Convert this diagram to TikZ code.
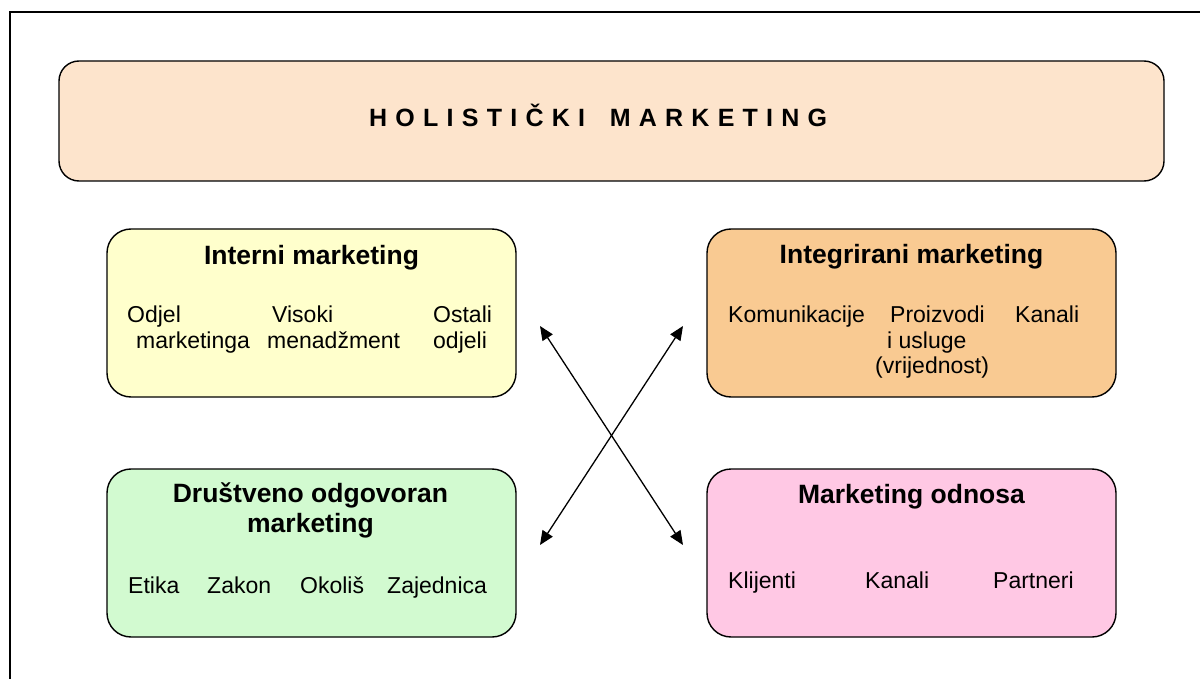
\documentclass[tikz,border=0pt]{standalone}
\usepackage{fontspec}
\setmainfont{Liberation Sans}
\usetikzlibrary{arrows.meta}
\definecolor{peach}{HTML}{FDE4CC}
\definecolor{lyellow}{HTML}{FFFFCC}
\definecolor{lorange}{HTML}{F9CA92}
\definecolor{lgreen}{HTML}{D2FAD0}
\definecolor{lpink}{HTML}{FFC8E4}
\tikzset{
  box/.style={draw=black, line width=1.4pt, rounded corners=24pt, inner sep=0pt, minimum width=409pt, minimum height=168pt},
  hd/.style={font=\fontsize{26.5}{30}\selectfont\bfseries, inner sep=0pt, anchor=base, align=center},
  itm/.style={font=\fontsize{23}{26}\selectfont, inner sep=0pt, anchor=base west},
  arr/.style={{Triangle[length=14pt,width=12pt]}-{Triangle[length=14pt,width=12pt]}, line width=1.3pt}
}
\begin{document}
\begin{tikzpicture}[x=1pt,y=-1pt]
\useasboundingbox (0,0) rectangle (1200,679);
\fill[white] (0,0) rectangle (1200,679);
% frame
\draw[line width=1.4pt] (1200,12) -- (10,12) -- (10,679);
% title box
\node[box, rounded corners=20pt, fill=peach, minimum width=1105pt, minimum height=120pt] (topbox) at (611.5,121) {};
\node[font=\fontsize{25}{28}\selectfont\bfseries\addfontfeature{LetterSpace=5.2}, anchor=base west, inner sep=0pt] (title) at (369,127) {H O L I S T I Č K I \ \ M A R K E T I N G};
% boxes
\node[box, fill=lyellow] (interni) at (311.5,313) {};
\node[box, fill=lorange] (integ) at (911.5,313) {};
\node[box, fill=lgreen] (drus) at (311.5,553) {};
\node[box, fill=lpink] (odnos) at (911.5,553) {};
% headers
\node[hd] (hint) at (311.5,265) {Interni marketing};
\node[hd] (hinteg) at (911.5,264) {Integrirani marketing};
\node[hd] (hdrus) at (310.5,532) {Društveno odgovoran\\marketing};
\node[hd] (hodn) at (911.5,503) {Marketing odnosa};
% interni items
\node[itm] (i1a) at (127,323) {Odjel};
\node[itm] (i1b) at (136,348) {marketinga};
\node[itm] (i2a) at (272,323) {Visoki};
\node[itm] (i2b) at (267,348) {menadžment};
\node[itm] (i3a) at (433,323) {Ostali};
\node[itm] (i3b) at (433,348) {odjeli};
% integrirani items
\node[itm] (g1) at (728,322) {Komunikacije};
\node[itm] (g2a) at (890,322) {Proizvodi};
\node[itm] (g3) at (1015,322) {Kanali};
\node[itm] (g2b) at (887,348) {i usluge};
\node[itm] (g2c) at (875,373) {(vrijednost)};
% drustveno items
\node[itm] (d1) at (128,593) {Etika};
\node[itm] (d2) at (207,593) {Zakon};
\node[itm] (d3) at (300,593) {Okoliš};
\node[itm] (d4) at (387,593) {Zajednica};
% odnosa items
\node[itm] (o1) at (728,588) {Klijenti};
\node[itm] (o2) at (865,588) {Kanali};
\node[itm] (o3) at (993,588) {Partneri};
% arrows
\coordinate (a1) at (540,326);
\coordinate (a2) at (683,545);
\coordinate (b1) at (683,326);
\coordinate (b2) at (540,545);
\draw[arr] (a1) -- (a2);
\draw[arr] (b1) -- (b2);
\end{tikzpicture}
\end{document}
